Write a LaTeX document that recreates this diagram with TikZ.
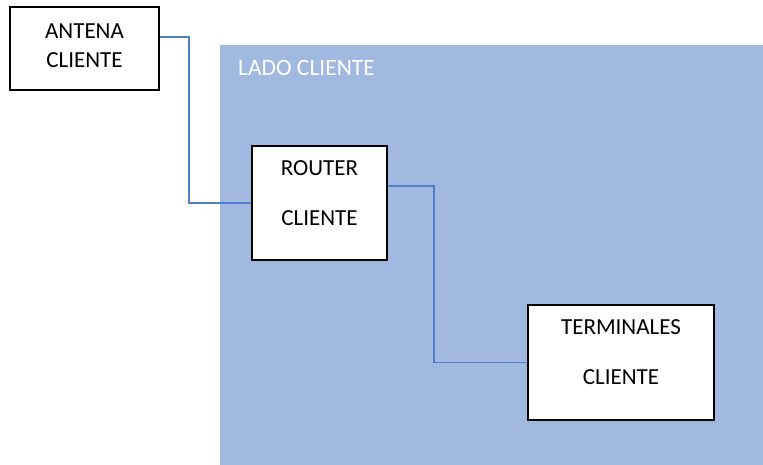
\documentclass[tikz,border=0pt]{standalone}
\usepackage{fontspec}
\setmainfont{Carlito}
\usepackage{xcolor}
\usepackage{tikz}
\usetikzlibrary{shapes,positioning}
\definecolor{zonablue}{RGB}{161,184,225}
\definecolor{linkblue}{RGB}{80,125,205}
\tikzset{caja/.style={rectangle,draw,fill=white,line width=1.4pt,inner sep=0pt}}
\tikzset{zona/.style={rectangle,fill=zonablue,inner sep=0pt}}
\tikzset{txt/.style={align=center,inner sep=0pt,font=\fontsize{23}{50}\selectfont}}
\tikzset{link/.style={draw=linkblue,line width=1.7pt}}

\begin{document}
\begin{tikzpicture}[x=1pt,y=-1pt]
    \useasboundingbox (0,0) rectangle (763,465);

    \node[zona,minimum width=543pt,minimum height=420pt,anchor=north west] (lado)at (220,45) {};
    \node[inner sep=0pt,anchor=west,text=white,font=\fontsize{23.5}{28}\selectfont] (ladot)at (238,67.5) {LADO CLIENTE};

    \node[caja,minimum width=149pt,minimum height=83pt] (antena)at (84.5,48.5) {};
    \node[caja,minimum width=135pt,minimum height=114pt] (router)at (319.5,203) {};
    \node[caja,minimum width=186pt,minimum height=115pt] (term)at (621,362.5) {};

    \node[txt,font=\fontsize{23}{29}\selectfont] (antenat)at ([yshift=3pt]antena.center) {ANTENA\\CLIENTE};
    \node[txt] (routert)at ([yshift=10pt]router.center) {ROUTER\\CLIENTE};
    \node[txt] (termt)at ([yshift=10.5pt]term.center) {TERMINALES\\CLIENTE};

    \draw [link] ([yshift=11.5pt]antena.east) -- ++(29,0) |- (router.west);
    \draw [link] ([yshift=17pt]router.east) -- ++(46,0) |- (term.west);
\end{tikzpicture}
\end{document}
